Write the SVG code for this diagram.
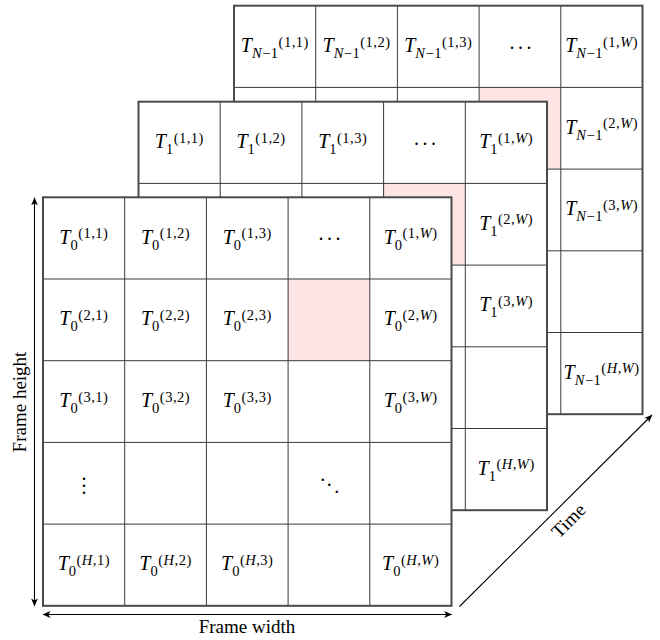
<svg xmlns="http://www.w3.org/2000/svg" xmlns:xlink="http://www.w3.org/1999/xlink" width="660" height="640" viewBox="0 0 660 640">
<style>
.bg{fill:#ffffff;stroke:none}
.pink{fill:#fde5e5;stroke:none}
.grid{fill:none;stroke:#3a3a3a;stroke-width:1}
.border{fill:none;stroke:#4a4a4a;stroke-width:2}
.m{font-family:"Liberation Serif","Times New Roman",serif;font-size:20px;text-anchor:middle;fill:#000}
.v{font-style:italic}
.s{font-size:14.5px;letter-spacing:0.5px}
.d{font-family:"Liberation Serif","Times New Roman",serif;font-size:20px;text-anchor:middle;fill:#000}
.ax{fill:none;stroke:#000;stroke-width:1.1}
.al{font-family:"Liberation Serif","Times New Roman",serif;font-size:19px;text-anchor:middle;fill:#000}
</style>
<defs>
<marker id="ah" viewBox="0 0 8 8" refX="7.6" refY="4" markerWidth="8" markerHeight="8" markerUnits="userSpaceOnUse" orient="auto-start-reverse">
<path d="M0,0.6 L8,4 L0,7.4 L2.2,4 Z" fill="#000"/>
</marker>
<path id="gridlines" d="M81.7 0V408.5M163.4 0V408.5M245.1 0V408.5M326.8 0V408.5M0 81.7H408.5M0 163.4H408.5M0 245.1H408.5M0 326.8H408.5"/>
</defs>

<!-- Frame T_{N-1} (back) -->
<g id="frame-TN-1" transform="translate(234,5.7)">
<rect class="bg" x="0" y="0" width="408.5" height="408.5"/>
<rect class="pink" x="245.1" y="81.7" width="81.7" height="81.7"/>
<use href="#gridlines" class="grid"/>
<rect class="border" x="0" y="0" width="408.5" height="408.5"/>
<g id="tn-1-1"><text class="m" x="40.85" y="46.35"><tspan class="v">T</tspan><tspan class="s" dy="6"><tspan class="v">N</tspan>−1</tspan><tspan class="s" dy="-11.5">(1,1)</tspan></text></g>
<g id="tn-1-2"><text class="m" x="122.55" y="46.35"><tspan class="v">T</tspan><tspan class="s" dy="6"><tspan class="v">N</tspan>−1</tspan><tspan class="s" dy="-11.5">(1,2)</tspan></text></g>
<g id="tn-1-3"><text class="m" x="204.25" y="46.35"><tspan class="v">T</tspan><tspan class="s" dy="6"><tspan class="v">N</tspan>−1</tspan><tspan class="s" dy="-11.5">(1,3)</tspan></text></g>
<g id="tn-1-dots"><text class="d" x="277.95 286.45 294.95" y="42.85">...</text></g>
<g id="tn-1-W"><text class="m" x="367.65" y="46.35"><tspan class="v">T</tspan><tspan class="s" dy="6"><tspan class="v">N</tspan>−1</tspan><tspan class="s" dy="-11.5">(1,<tspan class="v">W</tspan>)</tspan></text></g>
<g id="tn-2-W"><text class="m" x="367.65" y="128.05"><tspan class="v">T</tspan><tspan class="s" dy="6"><tspan class="v">N</tspan>−1</tspan><tspan class="s" dy="-11.5">(2,<tspan class="v">W</tspan>)</tspan></text></g>
<g id="tn-3-W"><text class="m" x="367.65" y="209.75"><tspan class="v">T</tspan><tspan class="s" dy="6"><tspan class="v">N</tspan>−1</tspan><tspan class="s" dy="-11.5">(3,<tspan class="v">W</tspan>)</tspan></text></g>
<g id="tn-H-W"><text class="m" x="367.65" y="373.15"><tspan class="v">T</tspan><tspan class="s" dy="6"><tspan class="v">N</tspan>−1</tspan><tspan class="s" dy="-11.5">(<tspan class="v">H</tspan>,<tspan class="v">W</tspan>)</tspan></text></g>
</g>

<!-- Frame T_1 (middle) -->
<g id="frame-T1" transform="translate(138.5,101.7)">
<rect class="bg" x="0" y="0" width="408.5" height="408.5"/>
<rect class="pink" x="245.1" y="81.7" width="81.7" height="81.7"/>
<use href="#gridlines" class="grid"/>
<rect class="border" x="0" y="0" width="408.5" height="408.5"/>
<g id="t1-1-1"><text class="m" x="40.85" y="46.35"><tspan class="v">T</tspan><tspan class="s" dy="6">1</tspan><tspan class="s" dy="-11.5">(1,1)</tspan></text></g>
<g id="t1-1-2"><text class="m" x="122.55" y="46.35"><tspan class="v">T</tspan><tspan class="s" dy="6">1</tspan><tspan class="s" dy="-11.5">(1,2)</tspan></text></g>
<g id="t1-1-3"><text class="m" x="204.25" y="46.35"><tspan class="v">T</tspan><tspan class="s" dy="6">1</tspan><tspan class="s" dy="-11.5">(1,3)</tspan></text></g>
<g id="t1-1-dots"><text class="d" x="277.95 286.45 294.95" y="42.85">...</text></g>
<g id="t1-1-W"><text class="m" x="367.65" y="46.35"><tspan class="v">T</tspan><tspan class="s" dy="6">1</tspan><tspan class="s" dy="-11.5">(1,<tspan class="v">W</tspan>)</tspan></text></g>
<g id="t1-2-W"><text class="m" x="367.65" y="128.05"><tspan class="v">T</tspan><tspan class="s" dy="6">1</tspan><tspan class="s" dy="-11.5">(2,<tspan class="v">W</tspan>)</tspan></text></g>
<g id="t1-3-W"><text class="m" x="367.65" y="209.75"><tspan class="v">T</tspan><tspan class="s" dy="6">1</tspan><tspan class="s" dy="-11.5">(3,<tspan class="v">W</tspan>)</tspan></text></g>
<g id="t1-H-W"><text class="m" x="367.65" y="373.15"><tspan class="v">T</tspan><tspan class="s" dy="6">1</tspan><tspan class="s" dy="-11.5">(<tspan class="v">H</tspan>,<tspan class="v">W</tspan>)</tspan></text></g>
</g>

<!-- Frame T_0 (front) -->
<g id="frame-T0" transform="translate(43,197.3)">
<rect class="bg" x="0" y="0" width="408.5" height="408.5"/>
<rect class="pink" x="245.1" y="81.7" width="81.7" height="81.7"/>
<use href="#gridlines" class="grid"/>
<rect class="border" x="0" y="0" width="408.5" height="408.5"/>
<g id="t0-1-1"><text class="m" x="40.85" y="46.35"><tspan class="v">T</tspan><tspan class="s" dy="6">0</tspan><tspan class="s" dy="-11.5">(1,1)</tspan></text></g>
<g id="t0-1-2"><text class="m" x="122.55" y="46.35"><tspan class="v">T</tspan><tspan class="s" dy="6">0</tspan><tspan class="s" dy="-11.5">(1,2)</tspan></text></g>
<g id="t0-1-3"><text class="m" x="204.25" y="46.35"><tspan class="v">T</tspan><tspan class="s" dy="6">0</tspan><tspan class="s" dy="-11.5">(1,3)</tspan></text></g>
<g id="t0-1-dots"><text class="d" x="277.95 286.45 294.95" y="42.85">...</text></g>
<g id="t0-1-W"><text class="m" x="367.65" y="46.35"><tspan class="v">T</tspan><tspan class="s" dy="6">0</tspan><tspan class="s" dy="-11.5">(1,<tspan class="v">W</tspan>)</tspan></text></g>
<g id="t0-2-1"><text class="m" x="40.85" y="128.05"><tspan class="v">T</tspan><tspan class="s" dy="6">0</tspan><tspan class="s" dy="-11.5">(2,1)</tspan></text></g>
<g id="t0-2-2"><text class="m" x="122.55" y="128.05"><tspan class="v">T</tspan><tspan class="s" dy="6">0</tspan><tspan class="s" dy="-11.5">(2,2)</tspan></text></g>
<g id="t0-2-3"><text class="m" x="204.25" y="128.05"><tspan class="v">T</tspan><tspan class="s" dy="6">0</tspan><tspan class="s" dy="-11.5">(2,3)</tspan></text></g>
<g id="t0-2-W"><text class="m" x="367.65" y="128.05"><tspan class="v">T</tspan><tspan class="s" dy="6">0</tspan><tspan class="s" dy="-11.5">(2,<tspan class="v">W</tspan>)</tspan></text></g>
<g id="t0-3-1"><text class="m" x="40.85" y="209.75"><tspan class="v">T</tspan><tspan class="s" dy="6">0</tspan><tspan class="s" dy="-11.5">(3,1)</tspan></text></g>
<g id="t0-3-2"><text class="m" x="122.55" y="209.75"><tspan class="v">T</tspan><tspan class="s" dy="6">0</tspan><tspan class="s" dy="-11.5">(3,2)</tspan></text></g>
<g id="t0-3-3"><text class="m" x="204.25" y="209.75"><tspan class="v">T</tspan><tspan class="s" dy="6">0</tspan><tspan class="s" dy="-11.5">(3,3)</tspan></text></g>
<g id="t0-3-W"><text class="m" x="367.65" y="209.75"><tspan class="v">T</tspan><tspan class="s" dy="6">0</tspan><tspan class="s" dy="-11.5">(3,<tspan class="v">W</tspan>)</tspan></text></g>
<g id="t0-vdots"><text class="d" x="41 41 41" y="282.95 289.7 296.95">...</text></g>
<g id="t0-ddots"><text class="d" x="279.65 286.25 293.65" y="283.65 288.95 295.35">...</text></g>
<g id="t0-H-1"><text class="m" x="40.85" y="373.15"><tspan class="v">T</tspan><tspan class="s" dy="6">0</tspan><tspan class="s" dy="-11.5">(<tspan class="v">H</tspan>,1)</tspan></text></g>
<g id="t0-H-2"><text class="m" x="122.55" y="373.15"><tspan class="v">T</tspan><tspan class="s" dy="6">0</tspan><tspan class="s" dy="-11.5">(<tspan class="v">H</tspan>,2)</tspan></text></g>
<g id="t0-H-3"><text class="m" x="204.25" y="373.15"><tspan class="v">T</tspan><tspan class="s" dy="6">0</tspan><tspan class="s" dy="-11.5">(<tspan class="v">H</tspan>,3)</tspan></text></g>
<g id="t0-H-W"><text class="m" x="367.65" y="373.15"><tspan class="v">T</tspan><tspan class="s" dy="6">0</tspan><tspan class="s" dy="-11.5">(<tspan class="v">H</tspan>,<tspan class="v">W</tspan>)</tspan></text></g>
</g>

<!-- Axes / connectors -->
<g id="connectors">
<line id="axis-height" class="ax" x1="34.5" y1="197.8" x2="34.5" y2="606" marker-start="url(#ah)" marker-end="url(#ah)"/>
<line id="axis-width" class="ax" x1="43" y1="614.5" x2="451.7" y2="614.5" marker-start="url(#ah)" marker-end="url(#ah)"/>
<line id="axis-time" class="ax" x1="459.5" y1="606.5" x2="652" y2="415" marker-end="url(#ah)"/>
</g>
<g id="axis-labels">
<text class="al" x="247" y="633.3">Frame width</text>
<text class="al" x="26" y="402" transform="rotate(-90 26 402)">Frame height</text>
<text class="al" x="573" y="525" transform="rotate(-45 573 525)">Time</text>
</g>
</svg>
